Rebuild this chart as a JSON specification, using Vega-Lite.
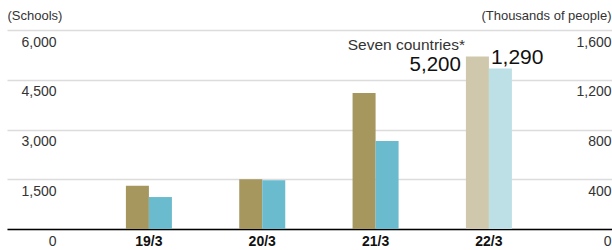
{
  "$schema": "https://vega.github.io/schema/vega-lite/v6.json",
  "width": 605,
  "height": 199,
  "autosize": "none",
  "padding": {"left": 7, "top": 30, "right": 0, "bottom": 21},
  "config": {"view": {"stroke": null}, "font": "Liberation Sans"},
  "data": {
    "values": [
      {"period": "19/3", "series": "Schools", "value": 1305},
      {"period": "19/3", "series": "People", "value": 257},
      {"period": "20/3", "series": "Schools", "value": 1500},
      {"period": "20/3", "series": "People", "value": 391},
      {"period": "21/3", "series": "Schools", "value": 4100},
      {"period": "21/3", "series": "People", "value": 707},
      {"period": "22/3", "series": "Schools", "value": 5200},
      {"period": "22/3", "series": "People", "value": 1290}
    ]
  },
  "encoding": {
    "x": {
      "field": "period",
      "type": "nominal",
      "sort": null,
      "scale": {"paddingInner": 0.594, "paddingOuter": 0.966, "align": 0.543},
      "axis": {
        "title": null,
        "orient": "bottom",
        "ticks": false,
        "tickSize": 0,
        "grid": false,
        "domainColor": "#000000",
        "domainWidth": 1.5,
        "labelAngle": 0,
        "labelFontSize": 14,
        "labelFontWeight": "bold",
        "labelColor": "#111111",
        "labelPadding": 5,
        "labelBaseline": "top"
      }
    }
  },
  "layer": [
    {
      "transform": [{"filter": "datum.series === 'Schools'"}],
      "encoding": {
        "y": {
          "field": "value",
          "type": "quantitative",
          "scale": {"domain": [0, 6000], "nice": false},
          "axis": {
            "orient": "left",
            "values": [0, 1500, 3000, 4500, 6000],
            "format": ",.0f",
            "grid": true,
            "gridColor": "#dcdcdc",
            "gridWidth": 1.5,
            "domain": false,
            "ticks": false,
            "tickSize": 0,
            "labelAlign": "right",
            "labelBaseline": "middle",
            "labelPadding": -49,
            "labelOffset": 12,
            "labelFlush": false,
            "labelOverlap": false,
            "labelFontSize": 14,
            "labelColor": "#333333",
            "title": "(Schools)",
            "titleAngle": 0,
            "titleAlign": "left",
            "titleBaseline": "middle",
            "titleX": 0,
            "titleY": -15,
            "titleFontSize": 13,
            "titleFontWeight": "normal",
            "titleColor": "#333333"
          }
        }
      },
      "layer": [
        {
          "mark": {"type": "bar"},
          "encoding": {
            "xOffset": {"field": "series", "type": "nominal", "scale": {"domain": ["Schools", "People"], "paddingInner": 0, "paddingOuter": 0}},
            "color": {"condition": {"test": "datum.period === '22/3'", "value": "#d0c8ac"}, "value": "#a6975f"}
          }
        },
        {
          "transform": [{"filter": "datum.period === '22/3'"}],
          "mark": {"type": "text", "align": "right", "baseline": "alphabetic", "dx": -28, "dy": 14, "fontSize": 20.5, "color": "#111111"},
          "encoding": {"text": {"field": "value", "type": "quantitative", "format": ",.0f"}}
        },
        {
          "transform": [{"filter": "datum.period === '22/3'"}],
          "mark": {"type": "text", "text": "Seven countries*", "align": "right", "baseline": "alphabetic", "dx": -24, "dy": -7, "fontSize": 15.5, "color": "#333333"},
          "encoding": {}
        }
      ]
    },
    {
      "transform": [{"filter": "datum.series === 'People'"}],
      "encoding": {
        "y": {
          "field": "value",
          "type": "quantitative",
          "scale": {"domain": [0, 1600], "nice": false},
          "axis": {
            "orient": "right",
            "values": [0, 400, 800, 1200, 1600],
            "format": ",.0f",
            "grid": false,
            "domain": false,
            "ticks": false,
            "tickSize": 0,
            "labelAlign": "right",
            "labelBaseline": "middle",
            "labelPadding": -1,
            "labelOffset": 12,
            "labelFlush": false,
            "labelOverlap": false,
            "labelFontSize": 14,
            "labelColor": "#333333",
            "title": "(Thousands of people)",
            "titleAngle": 0,
            "titleAlign": "right",
            "titleBaseline": "middle",
            "titleX": -1,
            "titleY": -15,
            "titleFontSize": 13,
            "titleFontWeight": "normal",
            "titleColor": "#333333"
          }
        }
      },
      "layer": [
        {
          "mark": {"type": "bar"},
          "encoding": {
            "xOffset": {"field": "series", "type": "nominal", "scale": {"domain": ["Schools", "People"], "paddingInner": 0, "paddingOuter": 0}},
            "color": {"condition": {"test": "datum.period === '22/3'", "value": "#bde0e7"}, "value": "#6abbce"}
          }
        },
        {
          "transform": [{"filter": "datum.period === '22/3'"}],
          "mark": {"type": "text", "align": "left", "baseline": "alphabetic", "dx": 2, "dy": -5, "fontSize": 21, "color": "#111111"},
          "encoding": {"text": {"field": "value", "type": "quantitative", "format": ",.0f"}}
        }
      ]
    }
  ],
  "resolve": {"scale": {"y": "independent"}}
}
